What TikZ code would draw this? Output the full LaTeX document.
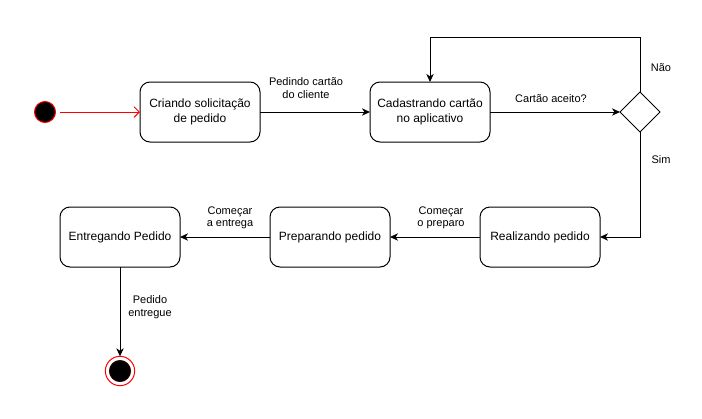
\documentclass[tikz,border=0pt]{standalone}
\usepackage{fontspec}
\setmainfont{Liberation Sans}
\usetikzlibrary{arrows.meta,shapes.geometric}
\begin{document}
\begin{tikzpicture}[x=0.75pt,y=-0.75pt,
  state/.style={draw, line width=0.75pt, rounded corners=7.5pt, minimum width=90pt, minimum height=45pt, align=center, font=\fontsize{9}{11}\selectfont, inner sep=0pt, outer sep=0pt},
  lbl/.style={font=\fontsize{8.25}{9.3}\selectfont, align=center, inner sep=0pt},
  conn/.style={line width=0.75pt, -{Stealth[length=6pt,width=5.5pt,inset=1.8pt]}},
  redconn/.style={line width=0.75pt, draw=red, -{Straight Barb[length=4pt,width=8pt,line width=0.75pt]}},
]
\useasboundingbox (0,0) rectangle (702,418);
\fill[white] (0,0) rectangle (702,418);

\node[circle, fill=black, draw=red, line width=0.75pt, minimum size=15.75pt, inner sep=0pt] (start) at (45,112) {};
\node[state] (b1) at (200,112) {Criando solicitação\\de pedido};
\node[state] (b2) at (430,112) {Cadastrando cartão\\no aplicativo};
\node[diamond, draw, line width=0.75pt, minimum width=30pt, minimum height=30pt, inner sep=0pt, outer sep=0pt] (d) at (640,112) {};
\node[state] (b3) at (540,237) {Realizando pedido};
\node[state] (b4) at (330,237) {Preparando pedido};
\node[state] (b5) at (120,237) {Entregando Pedido};
\node[circle, draw=red, fill=white, line width=0.75pt, minimum size=22pt, inner sep=0pt, outer sep=0pt] (end) at (120,371) {};
\node[circle, fill=black, draw=black!80!red, line width=0.5pt, minimum size=16pt, inner sep=0pt] (endin) at (120,371) {};

\coordinate (top) at (640,37);

\draw[redconn] (start) ++(15,0) -- (b1.west);
\draw[conn] (b1) -- (b2);
\draw[conn] (b2) -- (d);
\draw[conn] (d.north) -- (top) -| (b2.north);
\draw[conn] (d.south) |- (b3.east);
\draw[conn] (b3) -- (b4);
\draw[conn] (b4) -- (b5);
\draw[conn] (b5) -- (end);

\node[lbl] (l1) at (306,88) {Pedindo cartão\\do cliente};
\node[lbl] (l2) at (551,99) {Cartão aceito?};
\node[lbl] (l3) at (661,68) {Não};
\node[lbl] (l4) at (661,160) {Sim};
\node[lbl] (l5) at (441,218) {Começar\\o preparo};
\node[lbl] (l6) at (230,218) {Começar\\a entrega};
\node[lbl] (l7) at (150,307) {Pedido\\entregue};
\end{tikzpicture}
\end{document}
